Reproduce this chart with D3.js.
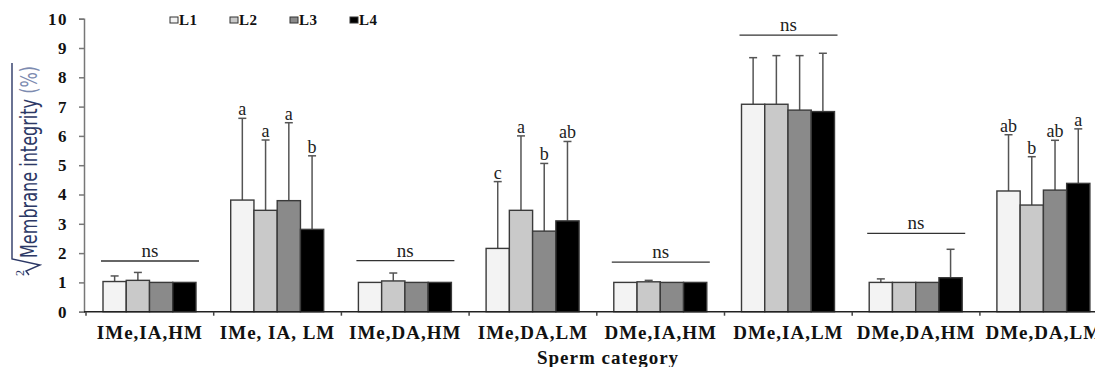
<!DOCTYPE html>
<html>
<head>
<meta charset="utf-8">
<script src="https://cdnjs.cloudflare.com/ajax/libs/d3/7.8.5/d3.min.js"></script>
<style>
  body { margin: 0; background: #fff; }
  svg { display: block; }
</style>
</head>
<body>
<div id="chart"></div>
<script>
// categories and series
var categories = ["IMe,IA,HM", "IMe, IA, LM", "IMe,DA,HM", "IMe,DA,LM", "DMe,IA,HM", "DMe,IA,LM", "DMe,DA,HM", "DMe,DA,LM"];
var seriesNames = ["L1", "L2", "L3", "L4"];

// means
var meanL1 = [1.03, 3.81, 1.00, 2.16, 1.00, 7.08, 1.00, 4.12];
var meanL2 = [1.07, 3.46, 1.05, 3.46, 1.02, 7.08, 1.00, 3.64];
var meanL3 = [1.00, 3.79, 1.00, 2.75, 1.00, 6.88, 1.00, 4.15];
var meanL4 = [1.00, 2.81, 1.00, 3.10, 1.00, 6.83, 1.16, 4.38];

// upper error (SD)
var errL1 = [0.19, 2.79, 0, 2.28, 0, 1.59, 0.12, 1.92];
var errL2 = [0.27, 2.40, 0.27, 2.54, 0.05, 1.66, 0, 1.65];
var errL3 = [0, 2.66, 0, 2.31, 0, 1.86, 0, 1.70];
var errL4 = [0, 2.51, 0, 2.71, 0, 1.99, 0.97, 1.86];

// significance letters
var sigL1 = [null, "a", null, "c", null, null, null, "ab"];
var sigL2 = [null, "a", null, "a", null, null, null, "b"];
var sigL3 = [null, "a", null, "b", null, null, null, "ab"];
var sigL4 = [null, "b", null, "ab", null, null, null, "a"];

// "ns" line level per category
var nsLevel = [1.73, null, 1.74, null, 1.69, 9.44, 2.67, null];

var yTicks = [0, 1, 2, 3, 4, 5, 6, 7, 8, 9, 10];

var means = [meanL1, meanL2, meanL3, meanL4],
	errs = [errL1, errL2, errL3, errL4],
	sigs = [sigL1, sigL2, sigL3, sigL4],
	fills = ["#f3f3f3", "#c9c9c9", "#8a8a8a", "#000000"];

var width = 1095,
	height = 367,
	serif = "'Liberation Serif', 'Times New Roman', 'DejaVu Serif', serif";

var svg = d3.select("#chart").append("svg")
	.attr("width", width)
	.attr("height", height);

var x = d3.scaleBand()
	.domain(categories)
	.range([86, 1107.6]);

var xs = d3.scaleBand()
	.domain(seriesNames)
	.range([17, 110]);

var y = d3.scaleLinear()
	.domain([0, 10])
	.range([311.7, 18.7]);

var rows = [];
categories.forEach(function (c, i) {
	seriesNames.forEach(function (s, j) {
		rows.push({ cat: c, ser: s, j: j, v: means[j][i], e: errs[j][i], sig: sigs[j][i] });
	});
});

// error bars (behind bars)
var eb = svg.append("g")
	.attr("stroke", "#555")
	.attr("stroke-width", 1.5)
	.selectAll("g")
	.data(rows.filter(function (d) { return d.e > 0; }))
	.join("g")
	.attr("transform", function (d) {
		return "translate(" + (x(d.cat) + xs(d.ser) + xs.bandwidth() / 2) + ",0)";
	});
eb.append("line")
	.attr("y1", function (d) { return y(d.v); })
	.attr("y2", function (d) { return y(d.v + d.e); });
eb.append("line")
	.attr("x1", -4).attr("x2", 4)
	.attr("y1", function (d) { return y(d.v + d.e); })
	.attr("y2", function (d) { return y(d.v + d.e); });

// bars
svg.append("g")
	.selectAll("rect")
	.data(rows)
	.join("rect")
	.attr("x", function (d) { return x(d.cat) + xs(d.ser); })
	.attr("y", function (d) { return y(d.v); })
	.attr("width", xs.bandwidth())
	.attr("height", function (d) { return y(0) - y(d.v); })
	.attr("fill", function (d) { return fills[d.j]; })
	.attr("stroke", "#3a3a3a")
	.attr("stroke-width", 1.4);

// letters
svg.append("g")
	.style("font", "18px " + serif)
	.attr("fill", "#222")
	.attr("text-anchor", "middle")
	.selectAll("text")
	.data(rows.filter(function (d) { return d.sig; }))
	.join("text")
	.attr("x", function (d) { return x(d.cat) + xs(d.ser) + xs.bandwidth() / 2; })
	.attr("y", function (d) { return y(d.v + d.e) - 3; })
	.text(function (d) { return d.sig; });

// ns lines
var ns = svg.append("g")
	.selectAll("g")
	.data(categories.map(function (c, i) { return { cat: c, lv: nsLevel[i] }; })
		.filter(function (d) { return d.lv != null; }))
	.join("g");
ns.append("line")
	.attr("x1", function (d) { return x(d.cat) + xs.range()[0] - 2; })
	.attr("x2", function (d) { return x(d.cat) + xs.range()[1] + 3; })
	.attr("y1", function (d) { return y(d.lv); })
	.attr("y2", function (d) { return y(d.lv); })
	.attr("stroke", "#333")
	.attr("stroke-width", 1.3);
ns.append("text")
	.attr("x", function (d) { return x(d.cat) + x.bandwidth() / 2; })
	.attr("y", function (d) { return y(d.lv) - 4; })
	.attr("text-anchor", "middle")
	.attr("fill", "#222")
	.style("font", "19px " + serif)
	.text("ns");

// y axis
var yAxis = svg.append("g")
	.attr("transform", "translate(84,0)")
	.call(d3.axisLeft(y).tickValues(yTicks).tickSize(5).tickPadding(11).tickFormat(d3.format("d")));
yAxis.select(".domain").attr("stroke", "#777").attr("stroke-width", 1.5);
yAxis.selectAll(".tick line").attr("stroke", "#777").attr("stroke-width", 1.5);
yAxis.selectAll(".tick text")
	.attr("fill", "#111")
	.style("letter-spacing", "1.5px")
	.style("font", "bold 17px " + serif);

// x axis
var xAxis = svg.append("g")
	.attr("transform", "translate(0," + y(0) + ")")
	.call(d3.axisBottom(x).tickSize(0).tickPadding(14));
xAxis.select(".domain").attr("d", "M84,0H" + width).attr("stroke", "#222").attr("stroke-width", 1.6);
xAxis.selectAll(".tick text")
	.attr("fill", "#111")
	.style("font", "bold 19px " + serif)
	.style("letter-spacing", "1px");
xAxis.append("g")
	.selectAll("line")
	.data(categories)
	.join("line")
	.attr("x1", function (d) { return x(d); })
	.attr("x2", function (d) { return x(d); })
	.attr("y1", 0).attr("y2", 4)
	.attr("stroke", "#444")
	.attr("stroke-width", 1.5);

svg.append("text")
	.attr("x", 608)
	.attr("y", 364)
	.attr("text-anchor", "middle")
	.attr("fill", "#111")
	.style("font", "bold 19px " + serif)
	.style("letter-spacing", "1px")
	.text("Sperm category");

// y title with square root
var yt = svg.append("g")
	.attr("transform", "translate(37,260) rotate(-90)");
yt.append("text")
	.attr("x", 2)
	.attr("y", 0)
	.attr("textLength", 192)
	.attr("lengthAdjust", "spacingAndGlyphs")
	.style("font", "23px 'Liberation Sans Narrow', 'DejaVu Sans Condensed', 'Liberation Sans', sans-serif")
	.attr("fill", "#2c3866")
	.call(function (t) {
		t.append("tspan").text("Membrane integrity ");
		t.append("tspan").attr("fill", "#7d8bb0").text("(%)");
	});
yt.append("path")
	.attr("d", "M-15,-8 L-11,-11 L-5,3 L1,-25 L197,-25")
	.attr("fill", "none")
	.attr("stroke", "#2c3866")
	.attr("stroke-width", 1.4);
yt.append("text")
	.attr("x", -16)
	.attr("y", -13)
	.attr("fill", "#2c3866")
	.style("font", "12px " + serif)
	.text("2");

// legend
var lg = svg.append("g")
	.selectAll("g")
	.data(seriesNames)
	.join("g")
	.attr("transform", function (d, i) { return "translate(" + (170 + i * 60) + ",0)"; });
lg.append("rect")
	.attr("x", 0).attr("y", 17)
	.attr("width", 8).attr("height", 6)
	.attr("fill", function (d, i) { return fills[i]; })
	.attr("stroke", "#333")
	.attr("stroke-width", 1);
lg.append("text")
	.attr("x", 9)
	.attr("y", 25)
	.attr("fill", "#111")
	.style("font", "bold 15px " + serif)
	.style("letter-spacing", "0.5px")
	.text(function (d) { return d; });
</script>
</body>
</html>
